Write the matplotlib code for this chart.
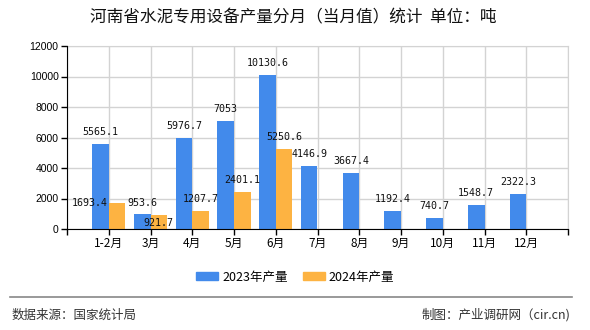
import matplotlib
matplotlib.use("Agg")
import matplotlib.pyplot as plt
from matplotlib.lines import Line2D
from matplotlib.patches import Patch
import numpy as np

plt.rcParams["font.family"] = ["Noto Sans CJK SC", "DejaVu Sans"]

months = ["1-2月", "3月", "4月", "5月", "6月", "7月", "8月", "9月", "10月", "11月", "12月"]
prod_2023 = [5565.1, 953.6, 5976.7, 7053, 10130.6, 4146.9, 3667.4, 1192.4, 740.7, 1548.7, 2322.3]
prod_2024 = [1693.4, 921.7, 1207.7, 2401.1, 5250.6]
series_names = ["2023年产量", "2024年产量"]
yticks = [0, 2000, 4000, 6000, 8000, 10000, 12000]

blue = "#428AEB"
orange = "#FDB342"

# label offsets in points, where the original moved a label to avoid overlap
label_shift = {("2024", 0): (-19.5, 0), ("2024", 1): (0, -5.8)}

fig = plt.figure(figsize=(5.9, 3.3), dpi=100)
ax = fig.add_axes([67 / 590, 1 - 229 / 330, 501 / 590, 183 / 330])

x = np.arange(1, len(months) + 1)
w = 0.4
b1 = ax.bar(x[: len(prod_2023)] - w / 2, prod_2023, w, color=blue, zorder=3)
b2 = ax.bar(x[: len(prod_2024)] + w / 2, prod_2024, w, color=orange, zorder=3)


def fmt(v):
    return "{:.7g}".format(v)


for key, bars, vals in (("2023", b1, prod_2023), ("2024", b2, prod_2024)):
    for i, (bar, v) in enumerate(zip(bars, vals)):
        dx, dy = label_shift.get((key, i), (0, 8.6))
        ax.annotate(fmt(v), (bar.get_x() + bar.get_width() / 2, v),
                    xytext=(dx, dy), textcoords="offset points",
                    ha="center", va="center", fontsize=7.2,
                    family="DejaVu Sans Mono", color="#111", zorder=5)

ax.set_xlim(0, 12)
ax.set_ylim(0, 12000)
ax.set_xticks(np.arange(0, 13))
ax.set_xticklabels([""] + months + [""], fontsize=8.5)
ax.set_yticks(yticks)
ax.set_yticklabels([str(t) for t in yticks], fontsize=7.5, family="Liberation Sans")
ax.tick_params(axis="both", length=4, width=1, color="black", pad=2)
ax.grid(True, color="#d3d3d3", lw=1, zorder=0)
for s in ("top", "right"):
    ax.spines[s].set_color("#d3d3d3")
for s in ("left", "bottom"):
    ax.spines[s].set_color("black")
    ax.spines[s].set_zorder(4)

fig.text(0.497, 1 - 18 / 330, "河南省水泥专用设备产量分月（当月值）统计  单位：吨",
         ha="center", va="center", fontsize=12, color="#111")

handles = [Patch(color=blue), Patch(color=orange)]
fig.legend(handles, series_names, loc="center", bbox_to_anchor=(0.5, 1 - 277 / 330),
           ncol=2, frameon=False, fontsize=9, handlelength=1.8, handleheight=0.65,
           handletextpad=0.3, columnspacing=1.2)

fig.add_artist(Line2D([10 / 590, 572 / 590], [1 - 297 / 330] * 2,
                      color="#888888", lw=1.2))
fig.text(12 / 590, 1 - 315 / 330, "数据来源：国家统计局", ha="left", va="center",
         fontsize=9, color="#333")
fig.text(570 / 590, 1 - 315 / 330, "制图：产业调研网（cir.cn)", ha="right", va="center",
         fontsize=9, color="#333")

fig.savefig("out.png", dpi=100)
